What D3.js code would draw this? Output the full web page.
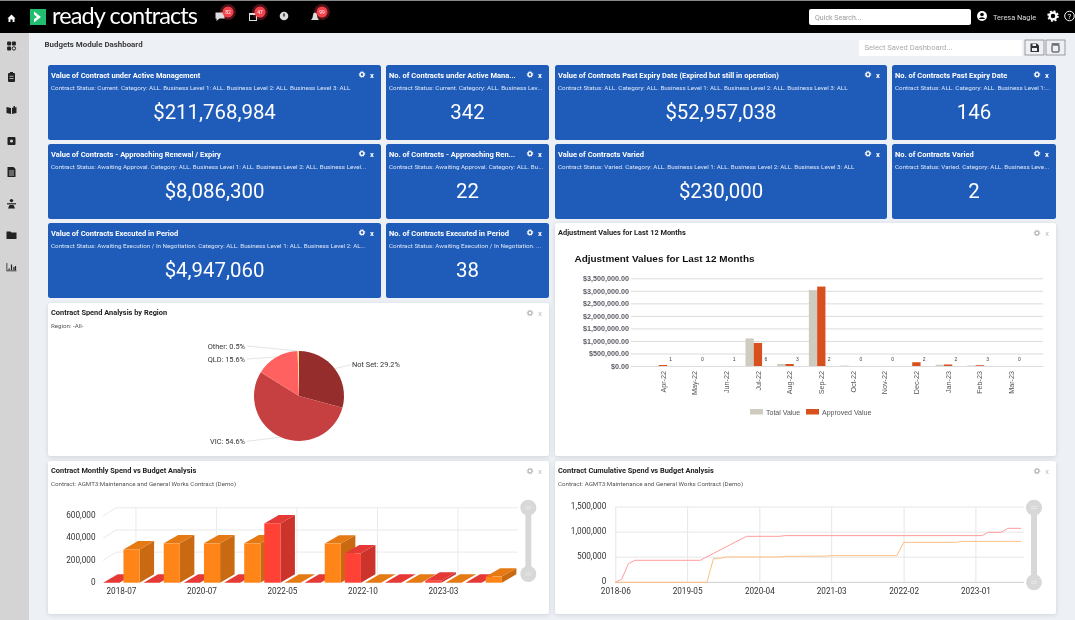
<!DOCTYPE html>
<html>
<head>
<meta charset="utf-8">
<script src="https://cdnjs.cloudflare.com/ajax/libs/d3/7.8.5/d3.min.js"></script>
<style>
  html, body { margin: 0; padding: 0; background: #edf0f5; overflow: hidden; }
  svg { display: block; font-family: Roboto, sans-serif; filter: blur(0.3px); }
  .panel { filter: drop-shadow(0 1px 2px rgba(0,0,0,.12)); }
</style>
</head>
<body>
<svg id="dash" width="1075" height="620"></svg>
<script>
// tiles
const cardTitles = [
  'Value of Contract under Active Management', 'No. of Contracts under Active Mana...',
  'Value of Contracts Past Expiry Date (Expired but still in operation)', 'No. of Contracts Past Expiry Date',
  'Value of Contracts - Approaching Renewal / Expiry', 'No. of Contracts - Approaching Ren...',
  'Value of Contracts Varied', 'No. of Contracts Varied',
  'Value of Contracts Executed in Period', 'No. of Contracts Executed in Period'
];
const cardFilters = [
  'Contract Status: Current. Category: ALL. Business Level 1: ALL. Business Level 2: ALL. Business Level 3: ALL',
  'Contract Status: Current. Category: ALL. Business Lev...',
  'Contract Status: ALL. Category: ALL. Business Level 1: ALL. Business Level 2: ALL. Business Level 3: ALL',
  'Contract Status: ALL. Category: ALL. Business Level 1:...',
  'Contract Status: Awaiting Approval. Category: ALL. Business Level 1: ALL. Business Level 2: ALL. Business Level...',
  'Contract Status: Awaiting Approval. Category: ALL. Bu...',
  'Contract Status: Varied. Category: ALL. Business Level 1: ALL. Business Level 2: ALL. Business Level 3: ALL',
  'Contract Status: Varied. Category: ALL. Business Leve...',
  'Contract Status: Awaiting Execution / In Negotiation. Category: ALL. Business Level 1: ALL. Business Level 2: AL...',
  'Contract Status: Awaiting Execution / In Negotiation. ...'
];
const cardValues = ['$211,768,984', '342', '$52,957,038', '146', '$8,086,300', '22', '$230,000', '2', '$4,947,060', '38'];

// adjustment values chart
const adjMonths = ['Apr-22', 'May-22', 'Jun-22', 'Jul-22', 'Aug-22', 'Sep-22', 'Oct-22', 'Nov-22', 'Dec-22', 'Jan-23', 'Feb-23', 'Mar-23'];
const adjTotal = [0, 0, 0, 1100000, 80000, 3030000, 20000, 0, 0, 50000, 20000, 0];
const adjApproved = [40000, 0, 0, 920000, 80000, 3170000, 0, 0, 150000, 60000, 30000, 0];
const adjCounts = [1, 0, 1, 6, 3, 2, 0, 0, 2, 2, 3, 0];
const adjTicks = [0, 500000, 1000000, 1500000, 2000000, 2500000, 3000000, 3500000];
const adjLegend = ['Total Value', 'Approved Value'];

// region pie
const regionNames = ['Not Set', 'VIC', 'QLD', 'Other'];
const regionShares = [29.2, 54.6, 15.6, 0.5];

// monthly spend, 10 categories, only every second one is labelled
const monthlyLabels = ['2018-07', '2020-07', '2022-05', '2022-10', '2023-03'];
const monthlySpend = [0, 0, 0, 0, 535000, 0, 265000, 0, 18000, 0];
const monthlyBudget = [300000, 355000, 355000, 355000, 0, 353000, 0, 0, 0, 55000];
const monthlyTicks = [0, 200000, 400000, 600000];

// cumulative spend, only the months where the line turns
const cumSpendMonths = ['2018-06', '2018-07', '2018-08', '2018-09', '2019-07', '2020-02', '2020-07', '2020-08', '2023-02', '2023-03', '2023-05', '2023-06', '2023-08'];
const cumSpendValues = [0, 65000, 370000, 438000, 438000, 916000, 916000, 930000, 930000, 995000, 995000, 1075000, 1075000];
const cumBudgetMonths = ['2018-06', '2019-08', '2019-09', '2019-10', '2019-11', '2020-07', '2020-08', '2021-02', '2021-03', '2022-01', '2022-02', '2022-10', '2022-11', '2023-08'];
const cumBudgetValues = [0, 0, 475000, 478000, 504000, 504000, 518000, 520000, 531000, 531000, 796000, 796000, 815000, 815000];
const cumLabels = ['2018-06', '2019-05', '2020-04', '2021-03', '2022-02', '2023-01'];
const cumTicks = [0, 500000, 1000000, 1500000];

const svg = d3.select('#dash');

// page chrome
svg.append('rect').attr('width', 1075).attr('height', 620).attr('fill', '#edf0f5');
svg.append('rect').attr('y', 33).attr('width', 29).attr('height', 587).attr('fill', '#d4d4d4');
svg.append('rect').attr('width', 1075).attr('height', 33).attr('fill', '#000');
svg.append('rect').attr('width', 1075).attr('height', 1).attr('fill', '#888');

function gear(parent, x, y, color, s = 1) {
  const g = parent.append('g').attr('transform', `translate(${x},${y}) scale(${s})`);
  g.append('circle').attr('r', 2.4).attr('fill', 'none').attr('stroke', color).attr('stroke-width', 1.6);
  g.append('circle').attr('r', 3.5).attr('fill', 'none').attr('stroke', color)
    .attr('stroke-width', 1.2).attr('stroke-dasharray', '1.4 1.35');
  return g;
}

// logo + search
const header = svg.append('g');
header.append('path').attr('d', 'M7.5,18.5 L11.5,14.5 L15.5,18.5 L14.5,18.5 V22 H12.6 V19.5 H10.4 V22 H8.5 V18.5 Z').attr('fill', '#fff');
header.append('rect').attr('x', 30).attr('y', 9).attr('width', 16).attr('height', 16).attr('fill', '#1fbf6f');
header.append('path').attr('d', 'M34,11.5 L41,17 L34,22.5 L34,19 L37,17 L34,14.5 Z').attr('fill', '#fff');
header.append('text').attr('x', 52).attr('y', 24).attr('fill', '#fff')
  .style('font-family', 'Lato').style('font-size', '23.5px').attr('textLength', 146).text('ready contracts');

// notification icons
const notices = [
  {x: 220, badge: 228, label: '82', shape: 'M-4.5,-3.5 h9 v6 h-5 l-3,2.5 v-2.5 h-1 Z'},
  {x: 253, badge: 260, label: '47', shape: 'M-4,-3 h8 v8 h-8 Z M-3,-1 v5 h6 v-5 Z'},
  {x: 284, badge: null, label: '', shape: null},
  {x: 315, badge: 322, label: '99', shape: 'M-4,4 q2,-2 2,-5 a2,2.5 0 0 1 4,0 q0,3 2,5 Z'}
];
notices.forEach(n => {
  if (n.badge) header.append('circle').attr('cx', n.badge).attr('cy', 12).attr('r', 8).attr('fill', '#4a1216');
  const g = header.append('g').attr('transform', `translate(${n.x},16)`);
  if (n.shape) g.append('path').attr('d', n.shape).attr('fill', '#ddd').attr('fill-rule', 'evenodd');
  else {
    g.append('circle').attr('r', 4.3).attr('fill', '#ddd');
    g.append('rect').attr('x', -0.6).attr('y', -2.5).attr('width', 1.2).attr('height', 3).attr('fill', '#000');
  }
  if (n.badge) {
    const b = header.append('g').attr('transform', `translate(${n.badge},12)`);
    b.append('circle').attr('r', 5.5).attr('fill', '#f4414a');
    b.append('text').attr('text-anchor', 'middle').attr('y', 1.8).attr('fill', '#fff')
      .style('font-size', '5px').text(n.label);
  }
});

header.append('rect').attr('x', 809).attr('y', 9).attr('width', 162).attr('height', 16).attr('rx', 2).attr('fill', '#fff');
header.append('text').attr('x', 815).attr('y', 19.5).attr('fill', '#999').style('font-size', '7px').text('Quick Search...');
header.append('circle').attr('cx', 982).attr('cy', 16).attr('r', 5).attr('fill', '#fff');
header.append('circle').attr('cx', 982).attr('cy', 14.5).attr('r', 1.8).attr('fill', '#000');
header.append('path').attr('d', 'M978.8,19 a3.4,2.6 0 0 1 6.4,0 Z').attr('fill', '#000');
header.append('text').attr('x', 993).attr('y', 19.5).attr('fill', '#ddd').style('font-size', '7.4px').text('Teresa Nagle');
gear(header, 1053, 16, '#fff', 1.4);
header.append('circle').attr('cx', 1069.5).attr('cy', 16).attr('r', 4.8).attr('fill', 'none').attr('stroke', '#fff');
header.append('text').attr('x', 1069.5).attr('y', 19).attr('text-anchor', 'middle').attr('fill', '#fff').style('font-size', '8px').text('?');

// sidebar icons, simple shapes
const sideY = [46, 77, 110, 141, 172, 204, 235, 267];
const side = svg.append('g').attr('fill', '#222');
sideY.forEach((y, i) => {
  const g = side.append('g').attr('transform', `translate(11.5,${y})`);
  if (i === 0) {
    [[-2.4, -2.4], [2.4, -2.4], [-2.4, 2.4]].forEach(p => g.append('rect').attr('x', p[0] - 2).attr('y', p[1] - 2).attr('width', 4).attr('height', 4).attr('rx', 1));
    g.append('circle').attr('cx', 2.4).attr('cy', 2.4).attr('r', 1.7).attr('fill', 'none').attr('stroke', '#222');
  } else if (i === 1) {
    g.append('rect').attr('x', -3.5).attr('y', -4).attr('width', 7).attr('height', 9).attr('rx', 1);
    g.append('rect').attr('x', -1.5).attr('y', -5).attr('width', 3).attr('height', 2);
    g.append('rect').attr('x', -2).attr('y', -1.2).attr('width', 4).attr('height', 0.8).attr('fill', '#d4d4d4');
    g.append('rect').attr('x', -2).attr('y', 1).attr('width', 4).attr('height', 0.8).attr('fill', '#d4d4d4');
  } else if (i === 2) {
    g.append('path').attr('d', 'M-5,-3 L-0.5,-2 V4 L-5,3 Z M0.5,-2 L2,-2.4 V-4 L3.5,-4 V-2.6 L5,-3 V3 L0.5,4 Z');
  } else if (i === 3) {
    g.append('rect').attr('x', -4).attr('y', -4).attr('width', 8).attr('height', 8).attr('rx', 1);
    g.append('circle').attr('r', 1.6).attr('fill', '#d4d4d4');
  } else if (i === 4) {
    g.append('path').attr('d', 'M-4,-5 H2 L4,-3 V5 H-4 Z');
    [-1, 1, 3].forEach(d => g.append('rect').attr('x', -2.5).attr('y', d - 0.4).attr('width', 5).attr('height', 0.8).attr('fill', '#d4d4d4'));
  } else if (i === 5) {
    g.append('circle').attr('cy', -3.4).attr('r', 1.7);
    g.append('rect').attr('x', -4.5).attr('y', -0.8).attr('width', 9).attr('height', 1.2);
    g.append('path').attr('d', 'M-2,1 H2 L3.5,4.5 H-3.5 Z');
  } else if (i === 6) {
    g.append('path').attr('d', 'M-5,-3.5 H-1 L0,-2.5 H5 V4 H-5 Z');
  } else {
    g.append('path').attr('d', 'M-5,-4 H-4.2 V3.4 H5 V4.2 H-5 Z');
    [[-3, 1.5, 1.8], [-0.6, -2.5, 5.8], [1.8, 0, 3.3], [3.4, -1, 4.3]].forEach(b =>
      g.append('rect').attr('x', b[0]).attr('y', b[1]).attr('width', 1.2).attr('height', b[2]));
  }
});

// dashboard heading
svg.append('text').attr('x', 44.5).attr('y', 47).attr('fill', '#3a3a3a').style('font-size', '7.9px').style('font-weight', 700)
  .text('Budgets Module Dashboard');
svg.append('rect').attr('x', 859).attr('y', 40).attr('width', 163).attr('height', 16).attr('rx', 1).attr('fill', '#fff');
svg.append('text').attr('x', 864.5).attr('y', 50).attr('fill', '#aaa').style('font-size', '7.6px').text('Select Saved Dashboard...');
[1025, 1046].forEach((x, i) => {
  svg.append('rect').attr('x', x).attr('y', 40).attr('width', 19).attr('height', 15).attr('fill', '#edf0f5').attr('stroke', '#777').attr('stroke-width', 0.7);
  if (i === 0) {
    svg.append('path').attr('d', `M${x + 5.5},43.5 h6.5 l2,2 v6.5 h-8.5 Z`).attr('fill', '#333');
    svg.append('rect').attr('x', x + 7.5).attr('y', 44).attr('width', 3.5).attr('height', 2).attr('fill', '#edf0f5');
    svg.append('rect').attr('x', x + 7).attr('y', 48).attr('width', 5).attr('height', 3).attr('fill', '#edf0f5');
  } else {
    svg.append('rect').attr('x', x + 6).attr('y', 45).attr('width', 7).attr('height', 7).attr('rx', 0.8).attr('fill', 'none').attr('stroke', '#333');
    svg.append('rect').attr('x', x + 5.5).attr('y', 43.4).attr('width', 8).attr('height', 1).attr('fill', '#333');
  }
});

// tiles
const colX = [48, 386, 555, 892];
const colW = [333, 163, 332, 164];
const rowY = [65, 144, 223];
const cardPos = [[0, 0], [1, 0], [2, 0], [3, 0], [0, 1], [1, 1], [2, 1], [3, 1], [0, 2], [1, 2]];

const cards = svg.selectAll('g.card').data(cardTitles).enter().append('g')
  .attr('class', 'card')
  .attr('transform', (d, i) => `translate(${colX[cardPos[i][0]]},${rowY[cardPos[i][1]]})`);
cards.append('rect').attr('width', (d, i) => colW[cardPos[i][0]]).attr('height', 75).attr('rx', 2.5).attr('fill', '#1f5bb8');
cards.append('text').attr('x', 3).attr('y', 12.5).attr('fill', '#fff').style('font-size', '7.5px').style('font-weight', 700).text(d => d);
cards.append('text').attr('x', 3).attr('y', 25).attr('fill', '#dbe6f7').style('font-size', '6.25px').text((d, i) => cardFilters[i]);
cards.append('text').attr('x', (d, i) => colW[cardPos[i][0]] / 2).attr('y', 54).attr('text-anchor', 'middle')
  .attr('fill', '#fff').style('font-size', '20.4px').text((d, i) => cardValues[i]);
cards.each(function (d, i) {
  const w = colW[cardPos[i][0]];
  gear(d3.select(this), w - 19, 9.5, '#fff', 0.8);
  d3.select(this).append('text').attr('x', w - 9).attr('y', 12.5).attr('text-anchor', 'middle').attr('fill', '#fff')
    .style('font-size', '7.5px').style('font-weight', 700).text('x');
});

// white panels
function panel(x, y, w, h, title, sub) {
  const g = svg.append('g').attr('transform', `translate(${x},${y})`);
  g.append('rect').attr('class', 'panel').attr('width', w).attr('height', h).attr('rx', 2.5).attr('fill', '#fff');
  g.append('text').attr('x', 3).attr('y', 12).attr('fill', '#222').style('font-size', '7.4px').style('font-weight', 700).text(title);
  if (sub) g.append('text').attr('x', 3).attr('y', 25).attr('fill', '#555').style('font-size', '6.2px').text(sub);
  gear(g, w - 19, 10, '#bbb', 0.8);
  g.append('text').attr('x', w - 9).attr('y', 12.5).attr('text-anchor', 'middle').attr('fill', '#bbb').style('font-size', '7.5px').text('x');
}
panel(48, 303, 501, 153, 'Contract Spend Analysis by Region', 'Region: -All-');
panel(555, 223, 501, 233, 'Adjustment Values for Last 12 Months');
panel(48, 461, 501, 153, 'Contract Monthly Spend vs Budget Analysis', 'Contract: AGMT3:Maintenance and General Works Contract (Demo)');
panel(555, 461, 501, 153, 'Contract Cumulative Spend vs Budget Analysis', 'Contract: AGMT3:Maintenance and General Works Contract (Demo)');

// pie by region
const pieCx = 299, pieCy = 396, pieR = 45;
const pieColors = d3.scaleOrdinal().domain(regionNames).range(['#962d2d', '#c64042', '#ff6060', '#ffdd88']);
const pieData = d3.pie().sort(null)(regionShares);
const arcGen = d3.arc().innerRadius(0).outerRadius(pieR);
const pieG = svg.append('g').attr('transform', `translate(${pieCx},${pieCy})`);
pieG.selectAll('path').data(pieData).enter().append('path')
  .attr('d', arcGen).attr('fill', (d, i) => pieColors(regionNames[i]));
// label nudges so Other and QLD stay apart
const labelDy = [-4, 4, 2, -5];
const labelPoint = d => {
  const a = (d.startAngle + d.endAngle) / 2;
  return [Math.sin(a) * pieR, -Math.cos(a) * pieR, a];
};
pieG.selectAll('polyline').data(pieData).enter().append('polyline')
  .attr('fill', 'none').attr('stroke', '#d8d8d8').attr('stroke-width', 0.7)
  .attr('points', (d, i) => {
    const [x, y, a] = labelPoint(d);
    const side = a < Math.PI ? 1 : -1;
    return [[x, y], [side * 52, y + labelDy[i]]].join(' ');
  });
pieG.selectAll('text').data(pieData).enter().append('text')
  .attr('x', d => (labelPoint(d)[2] < Math.PI ? 53 : -54))
  .attr('y', (d, i) => labelPoint(d)[1] + labelDy[i] + 2.5)
  .attr('text-anchor', d => (labelPoint(d)[2] < Math.PI ? 'start' : 'end'))
  .attr('fill', '#333').style('font-size', '7.4px')
  .text((d, i) => `${regionNames[i]}: ${regionShares[i]}%`);

// adjustment values, grouped bars on a point axis with blank ends
const adjG = svg.append('g').style('font-family', '"Liberation Sans", Arial, sans-serif');
adjG.append('text').attr('x', 574.5).attr('y', 262).attr('fill', '#111').style('font-size', '9.95px').style('font-weight', 700)
  .text('Adjustment Values for Last 12 Months');
const adjX = d3.scalePoint().domain(['', ...adjMonths, ' ']).range([631, 1043]);
const adjY = d3.scaleLinear().domain([0, 3500000]).range([366, 278.3]);
const adjYAxis = adjG.append('g').attr('transform', 'translate(631,0)')
  .call(d3.axisLeft(adjY).tickValues(adjTicks).tickFormat(d3.format('$,.2f')).tickSize(-412).tickPadding(2));
adjYAxis.select('.domain').remove();
adjYAxis.selectAll('line').attr('stroke', '#dcdcdc');
adjYAxis.selectAll('text').attr('fill', '#5f5a66').style('font-size', '7.2px').style('font-weight', 700).style('font-family', '"Liberation Sans"');
const adjXAxis = adjG.append('g').attr('transform', 'translate(0,366)')
  .call(d3.axisBottom(adjX).tickValues(adjMonths).tickSize(0));
adjXAxis.select('.domain').remove();
adjXAxis.selectAll('text').attr('transform', 'rotate(-90)').attr('text-anchor', 'end')
  .attr('x', -5).attr('y', 0).attr('dy', '0.32em').attr('fill', '#555').style('font-size', '7.2px').style('font-family', '"Liberation Sans"');
const barW = 8.3;
adjG.selectAll('rect.total').data(adjTotal).enter().append('rect').attr('class', 'total')
  .attr('x', (d, i) => adjX(adjMonths[i]) - 4 - barW).attr('width', barW)
  .attr('y', d => adjY(d)).attr('height', d => adjY(0) - adjY(d)).attr('fill', '#cfccbf');
adjG.selectAll('rect.approved').data(adjApproved).enter().append('rect').attr('class', 'approved')
  .attr('x', (d, i) => adjX(adjMonths[i]) - 4).attr('width', barW)
  .attr('y', d => adjY(d)).attr('height', d => adjY(0) - adjY(d)).attr('fill', '#d8501e');
adjG.selectAll('text.count').data(adjCounts).enter().append('text').attr('class', 'count')
  .attr('x', (d, i) => adjX(adjMonths[i]) + 8).attr('y', 361).attr('text-anchor', 'middle')
  .attr('fill', '#444').style('font-size', '5px').text(d => d);
const legendX = [750, 806];
const legendColor = ['#cfccbf', '#d8501e'];
const legendG = adjG.selectAll('g.lg').data(adjLegend).enter().append('g').attr('class', 'lg')
  .attr('transform', (d, i) => `translate(${legendX[i]},409)`);
legendG.append('rect').attr('width', 13).attr('height', 5.5).attr('fill', (d, i) => legendColor[i]);
legendG.append('text').attr('x', 16).attr('y', 5.8).attr('fill', '#555').style('font-size', '7px').text(d => d);

// sliders used on both lower charts
function slider(x, y1, y2) {
  const g = svg.append('g');
  g.append('line').attr('x1', x).attr('x2', x).attr('y1', y1).attr('y2', y2).attr('stroke', '#d8d8d8').attr('stroke-width', 6);
  [y1, y2].forEach(y => {
    g.append('circle').attr('cx', x).attr('cy', y).attr('r', 8).attr('fill', '#d8d8d8');
    [-1, 1].forEach(d => g.append('line').attr('x1', x - 3).attr('x2', x + 3).attr('y1', y + d).attr('y2', y + d).attr('stroke', '#f2f2f2').attr('stroke-width', 0.6));
  });
}

// monthly spend, fake 3d bars
const depthX = 14.5, depthY = 8.4;
const monG = svg.append('g');
const monX = d3.scaleBand().domain(d3.range(monthlySpend.length)).range([103.3, 505.8]);
const monSeries = d3.scaleBand().domain(['spend', 'budget']).range([0, 36.3]).paddingInner(0.2);
const monY = d3.scaleLinear().domain([0, 600000]).range([582.7, 516.2]);
monthlyTicks.forEach(t => {
  const y = monY(t);
  if (t > 0) monG.append('line').attr('x1', 116).attr('x2', 518).attr('y1', y - depthY).attr('y2', y - depthY).attr('stroke', '#eaeaea');
  monG.append('line').attr('x1', 103).attr('x2', 116).attr('y1', y).attr('y2', y - depthY).attr('stroke', '#eaeaea');
});
monthlyLabels.forEach((l, i) => {
  const x = monX(i * 2) + monX.bandwidth() / 2 - 2 + depthX;
  monG.append('line').attr('x1', x).attr('x2', x).attr('y1', monY(600000) - depthY).attr('y2', monY(0) - depthY).attr('stroke', '#eaeaea');
});
const monYAxis = monG.append('g').attr('transform', 'translate(95.5,-1)')
  .call(d3.axisLeft(monY).tickValues(monthlyTicks).tickFormat(d3.format(',')).tickSize(0).tickPadding(0));
monYAxis.select('.domain').remove();
monYAxis.selectAll('text').attr('fill', '#333').style('font-size', '8.2px').style('font-family', 'Roboto');
monG.selectAll('text.mlabel').data(monthlyLabels).enter().append('text').attr('class', 'mlabel')
  .attr('x', (d, i) => monX(i * 2) + monX.bandwidth() / 2 - 2).attr('y', 594).attr('text-anchor', 'middle')
  .attr('fill', '#333').style('font-size', '8.2px').text(d => d);

const monBars = monthlySpend.flatMap((s, i) => [
  {i, key: 'spend', value: s, front: '#ff4136', top: '#e53935', side: '#cc332b'},
  {i, key: 'budget', value: monthlyBudget[i], front: '#ff8518', top: '#e57a15', side: '#c96a12'}
]);
const bar3d = monG.selectAll('g.bar3d').data(monBars).enter().append('g').attr('class', 'bar3d');
const barX = d => monX(d.i) + monSeries(d.key);
const bw = monSeries.bandwidth();
bar3d.append('polygon').attr('fill', d => d.side).attr('points', d => {
  const x = barX(d) + bw, y0 = monY(0), y1 = monY(d.value);
  return [[x, y0], [x + depthX, y0 - depthY], [x + depthX, y1 - depthY], [x, y1]].join(' ');
});
bar3d.append('polygon').attr('fill', d => d.top).attr('points', d => {
  const x = barX(d), y1 = monY(d.value);
  return [[x, y1], [x + bw, y1], [x + bw + depthX, y1 - depthY], [x + depthX, y1 - depthY]].join(' ');
});
bar3d.append('rect').attr('x', barX).attr('width', bw).attr('y', d => monY(d.value))
  .attr('height', d => monY(0) - monY(d.value)).attr('fill', d => d.front);
slider(528.3, 507.7, 574);

// cumulative lines
const parseMonth = d3.utcParse('%Y-%m');
const fmtMonth = d3.utcFormat('%Y-%m');
const cumG = svg.append('g');
const cumX = d3.scaleUtc().domain([parseMonth('2018-06'), parseMonth('2023-08')]).range([615.3, 1021]);
const cumY = d3.scaleLinear().domain([0, 1500000]).range([582.3, 507]);
const cumXAxis = cumG.append('g').attr('transform', 'translate(0,582.3)')
  .call(d3.axisBottom(cumX).tickValues(cumLabels.map(parseMonth)).tickFormat(fmtMonth).tickSize(-75.3).tickPadding(5.5));
cumXAxis.select('.domain').attr('stroke', '#ccc').attr('d', 'M615,0H1024');
cumXAxis.selectAll('line').attr('stroke', '#e6e6e6');
cumXAxis.selectAll('text').attr('fill', '#333').style('font-size', '8.2px').style('font-family', 'Roboto');
const cumYAxis = cumG.append('g').attr('transform', 'translate(615.3,-1.2)')
  .call(d3.axisLeft(cumY).tickValues(cumTicks).tickFormat(d3.format(',')).tickSize(0).tickPadding(9));
cumYAxis.select('.domain').remove();
cumYAxis.selectAll('text').attr('fill', '#333').style('font-size', '8.2px').style('font-family', 'Roboto');
cumG.selectAll('line.gy').data(cumTicks.slice(1)).enter().append('line').attr('class', 'gy')
  .attr('x1', 615.3).attr('x2', 1024).attr('y1', cumY).attr('y2', cumY).attr('stroke', '#e6e6e6');
const lineGen = d3.line().x(d => cumX(parseMonth(d[0]))).y(d => cumY(d[1]));
cumG.append('path').attr('d', lineGen(d3.zip(cumBudgetMonths, cumBudgetValues))).attr('fill', 'none').attr('stroke', '#ffbf80').attr('stroke-width', 1);
cumG.append('path').attr('d', lineGen(d3.zip(cumSpendMonths, cumSpendValues))).attr('fill', 'none').attr('stroke', '#ff9c9c').attr('stroke-width', 1);
slider(1034, 507.7, 582.3);
</script>
</body>
</html>
